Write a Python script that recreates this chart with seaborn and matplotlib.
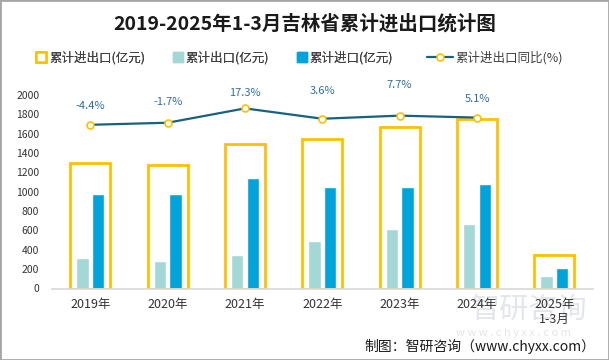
import matplotlib
matplotlib.use("Agg")
import matplotlib.pyplot as plt
from matplotlib.lines import Line2D
from matplotlib.patches import Rectangle
import seaborn as sns
import numpy as np
import pandas as pd

# data
years = ["2019年", "2020年", "2021年", "2022年", "2023年", "2024年", "2025年\n1-3月"]
total = [1297, 1278, 1495, 1548, 1668, 1754, 344]
exports = [316, 285, 347, 492, 616, 667, 129]
imports = [972, 980, 1143, 1052, 1050, 1083, 215]
growth = [-4.4, -1.7, 17.3, 3.6, 7.7, 5.1]

yellow = "#FFC000"
light = "#A3D8D6"
blue = "#00A3DA"
line_c = "#17627F"
label_c = "#2E6FA0"

sns.set_theme(style="white")
plt.rcParams["font.family"] = ["Noto Sans CJK SC", "DejaVu Sans"]

fig = plt.figure(figsize=(6.09, 3.6), dpi=100)
ax = fig.add_axes([51.7 / 609, 1 - 288.5 / 360, (593 - 51.7) / 609, 193.5 / 360])

df = pd.DataFrame({
    "year": years * 2,
    "kind": ["累计出口(亿元)"] * len(years) + ["累计进口(亿元)"] * len(years),
    "value": exports + imports,
})

sns.barplot(data=df, x="year", y="value", hue="kind", palette=[light, blue],
            width=0.4, gap=0.2, saturation=1, legend=False, ax=ax)
sns.barplot(x=years, y=total, color=yellow, fill=False, linewidth=2,
            width=0.52, saturation=1, ax=ax)

ax.set_ylim(0, 2000)
ax.set_yticks(range(0, 2001, 200))
ax.set_xlim(-0.5, 6.5)
ax.set_xlabel("")
ax.set_ylabel("")
for s in ["left", "top", "right"]:
    ax.spines[s].set_visible(False)
ax.spines["bottom"].set_color("#d9d9d9")
ax.tick_params(axis="y", length=0, pad=9, labelsize=7.5, labelcolor="#333333")
ax.tick_params(axis="x", length=0, pad=7, labelsize=9, labelcolor="#333333")

# growth line on hidden secondary axis
ax2 = ax.twinx()
sns.lineplot(x=np.arange(len(growth)), y=growth, ax=ax2, color=line_c, lw=1.6,
             marker="o", markersize=5, markerfacecolor="white",
             markeredgecolor=yellow, markeredgewidth=1.2)
ax2.set_ylim(-221, 35)
ax2.set_xlim(-0.5, 6.5)
ax2.axis("off")

label_dy = [13.7, 15, 11.2, 19.9, 22.3, 13.2]
for i, g in enumerate(growth):
    ax2.annotate(f"{g}%", (i, g), xytext=(0, label_dy[i]), textcoords="offset points",
                 ha="center", va="center", fontsize=8, color=label_c)

fig.text(305 / 609, 1 - 24 / 360, "2019-2025年1-3月吉林省累计进出口统计图",
         ha="center", va="center", fontsize=14, fontweight="bold", color="#1a1a1a")

# legend: squares and line in two groups to match spacing
sq_handles = [
    Line2D([], [], marker="s", linestyle="none", markersize=6.5,
           markerfacecolor="white", markeredgecolor=yellow, markeredgewidth=1.8),
    Line2D([], [], marker="s", linestyle="none", markersize=6.5,
           markerfacecolor=light, markeredgecolor=light),
    Line2D([], [], marker="s", linestyle="none", markersize=6.5,
           markerfacecolor=blue, markeredgecolor=blue),
]
sq_labels = ["累计进出口(亿元)", "累计出口(亿元)", "累计进口(亿元)"]
leg1 = fig.legend(sq_handles, sq_labels, loc="center left",
                  bbox_to_anchor=(36 / 609, 1 - 58 / 360), ncol=3, frameon=False,
                  fontsize=9, handlelength=0.8, handletextpad=0.25,
                  columnspacing=2.2, borderpad=0, borderaxespad=0,
                  labelcolor="#404040")
line_handle = Line2D([], [], color=line_c, lw=1.6, marker="o", markersize=5,
                     markerfacecolor="white", markeredgecolor=yellow,
                     markeredgewidth=1.2)
fig.legend([line_handle], ["累计进出口同比(%)"], loc="center left",
           bbox_to_anchor=(427 / 609, 1 - 58 / 360), frameon=False, fontsize=9,
           handlelength=2.1, handletextpad=0.2, borderpad=0, borderaxespad=0,
           labelcolor="#404040")
fig.add_artist(leg1)

# watermark and source
fig.text(529 / 609, 1 - 310 / 360, "智研咨询", ha="center", va="center",
         fontsize=21, color="#e3e6ea", zorder=-1)
fig.text(513 / 609, 1 - 333 / 360, "w w w . c h y x x . c o m", ha="center",
         va="center", fontsize=8, color="#e3e6ea", zorder=-1)
fig.text(595 / 609, 1 - 346 / 360, "制图：智研咨询（www.chyxx.com）",
         ha="right", va="center", fontsize=10, color="#1a1a1a")

fig.patches.append(Rectangle((0, 0), 1, 1, transform=fig.transFigure, fill=False,
                             edgecolor="#a6a6a6", lw=2))

fig.savefig("out.png", dpi=100)
